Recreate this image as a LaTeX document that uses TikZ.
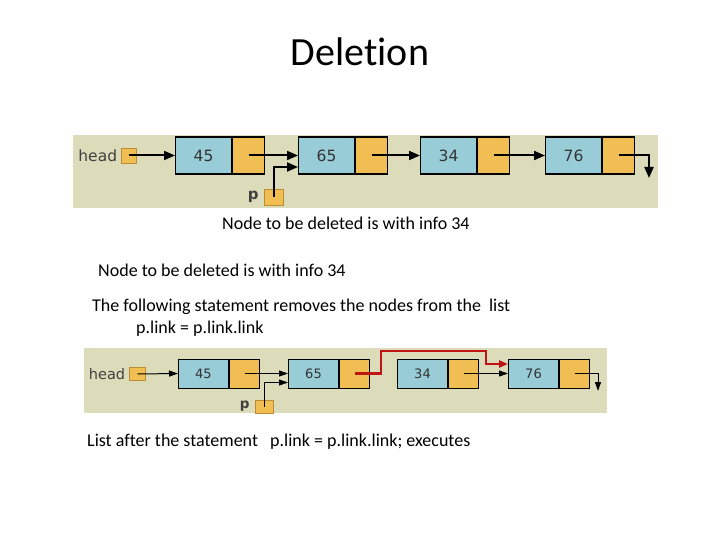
\documentclass[tikz,border=0pt]{standalone}
\usepackage{fontspec}
\setmainfont{Carlito}[Ligatures=NoCommon]
\newfontfamily\cellfont{DejaVu Sans}
\usetikzlibrary{arrows.meta, positioning}
\definecolor{panelbg}{RGB}{220,220,186}
\definecolor{infoblue}{RGB}{152,204,214}
\definecolor{linkorange}{RGB}{240,190,82}
\definecolor{boxedge}{RGB}{190,140,50}
\definecolor{newlink}{RGB}{190,20,20}

\begin{document}
\begin{tikzpicture}[
        x=1pt, y=-1pt,
        >={Triangle[length=11pt,width=9pt]},
        info/.style={draw, line width=1.2pt, fill=infoblue, inner sep=0pt, anchor=west,
          minimum width=56pt, minimum height=37pt, text=black!80,
          font=\cellfont\fontsize{15.5}{15.5}\selectfont},
        link/.style={draw, line width=1.2pt, fill=linkorange, inner sep=0pt,
          minimum width=32pt, minimum height=37pt},
        infosm/.style={info, line width=1pt, minimum width=50pt, minimum height=29pt,
          font=\cellfont\fontsize{13}{13}\selectfont},
        linksm/.style={link, line width=1pt, minimum width=30pt, minimum height=29pt},
        var/.style={draw=boxedge, fill=linkorange, inner sep=0pt, minimum width=15pt, minimum height=15pt},
        varname/.style={anchor=east, text=black!75, inner sep=1pt, font=\cellfont\fontsize{15.5}{15.5}\selectfont},
        ptr/.style={->, line width=2pt},
        ptrsm/.style={->, line width=1pt, >={Triangle[length=9pt,width=6pt]}},
        txt/.style={anchor=west, inner sep=0pt, font=\fontsize{18}{22}\selectfont},
        ]
        \fill[white] (0,0) rectangle (720,540);

        \node[font=\fontsize{40}{48}\selectfont] (title) at (360,52) {Deletion};

        % list before deletion
        \fill[panelbg] (73,135) rectangle (658,208);
        \node[info]                       (a1)  at (175,155.5) {45};
        \node[link, right=0pt of a1]      (a1l) {};
        \node[info]                       (b1)  at (298,155.5) {65};
        \node[link, right=0pt of b1]      (b1l) {};
        \node[info]                       (c1)  at (420,155.5) {34};
        \node[link, right=0pt of c1]      (c1l) {};
        \node[info]                       (d1)  at (545,155.5) {76};
        \node[link, right=0pt of d1]      (d1l) {};
        \node[var]                        (hd1) at (129,155.5) {};
        \node[varname, left=3pt of hd1]   (hdn1) {head};
        \node[var, minimum width=19pt, minimum height=16pt] (p1) at (273.5,197) {};
        \node[varname, left=4pt of p1, font=\cellfont\bfseries\fontsize{15}{15}\selectfont] (pn1) {p};
        \coordinate (nil1) at (649,178);

        \draw[ptr] (hd1.center) -- (a1.west);
        \draw[ptr] (a1l.center) -- (b1.west);
        \draw[ptr] (b1l.center) -- (c1.west);
        \draw[ptr] (c1l.center) -- (d1.west);
        \draw[ptr] (p1.center) |- ([yshift=-11.5pt]b1.west);
        \draw[ptr] (d1l.center) -| (nil1);

        \node[txt] (t1) at (222,223) {Node to be deleted is with info 34};
        \node[txt] (t2) at (98,270) {Node to be deleted is with info 34};
        \node[txt] (t3) at (92,307) {The following statement removes the nodes from the\ \ list};
        \node[txt] (t4) at (136,329) {p.link = p.link.link};

        % list after p.link = p.link.link
        \fill[panelbg] (84,348) rectangle (607,413);
        \node[infosm]                     (a2)  at (178,373.5) {45};
        \node[linksm, right=0pt of a2]    (a2l) {};
        \node[infosm]                     (b2)  at (288,373.5) {65};
        \node[linksm, right=0pt of b2]    (b2l) {};
        \node[infosm]                     (c2)  at (397,373.5) {34};
        \node[linksm, right=0pt of c2]    (c2l) {};
        \node[infosm]                     (d2)  at (508,373.5) {76};
        \node[linksm, right=0pt of d2]    (d2l) {};
        \node[var, minimum width=16pt, minimum height=13pt] (hd2) at (137.5,374) {};
        \node[varname, left=3pt of hd2, font=\cellfont\fontsize{14.5}{14.5}\selectfont] (hdn2) {head};
        \node[var, minimum width=18pt, minimum height=13pt] (p2) at (264,406.5) {};
        \node[varname, left=4pt of p2, font=\cellfont\bfseries\fontsize{13.5}{13.5}\selectfont] (pn2) {p};
        \coordinate (nil2) at (598,391);
        \coordinate (r1) at (381,351);
        \coordinate (r2) at (486,351);

        \draw[ptrsm] (hd2.center) -- (a2.west);
        \draw[ptrsm] (a2l.center) -- (b2.west);
        \draw[ptrsm] (c2l.center) -- (d2.west);
        \draw[ptrsm] (p2.center) |- ([yshift=-9pt]b2.west);
        \draw[ptrsm] (d2l.center) -| (nil2);
        \draw[->, newlink, line width=2.2pt, >={Triangle[length=9pt,width=7pt]}]
          (b2l.center) -| (r1) -- (r2) |- ([yshift=9.5pt]d2.west);

        \node[txt] (t5) at (87,442) {List after the statement\ \ \ p.link = p.link.link; executes};
      \end{tikzpicture}
\end{document}
